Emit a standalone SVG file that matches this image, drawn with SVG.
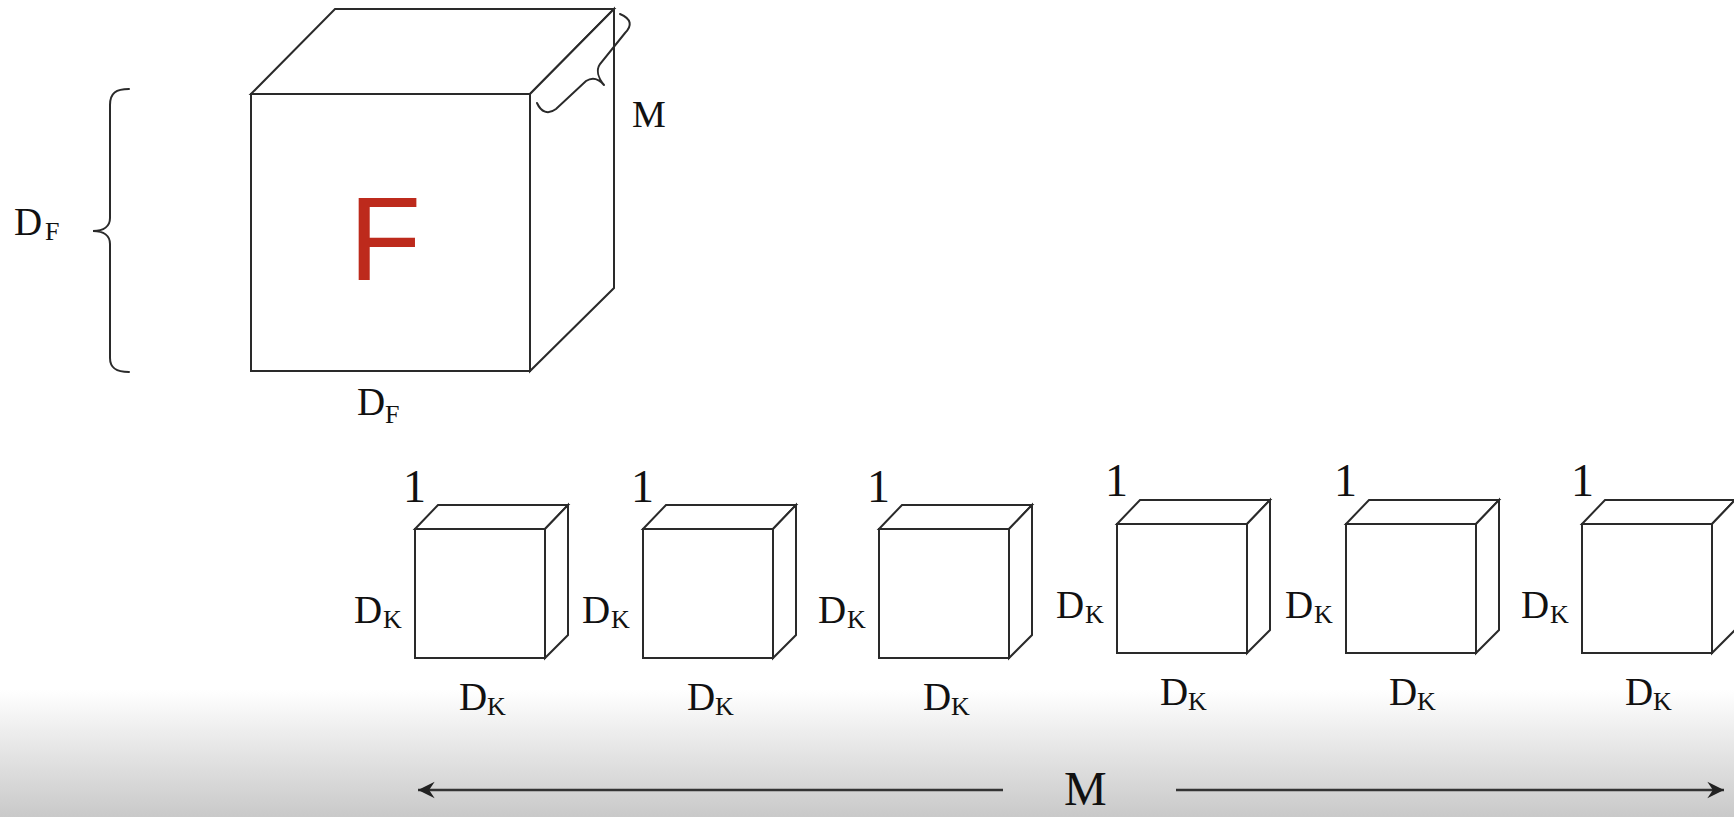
<svg xmlns="http://www.w3.org/2000/svg" xmlns:xlink="http://www.w3.org/1999/xlink" width="1734" height="817" viewBox="0 0 1734 817">
  <style>
    .edge { fill: #ffffff; stroke: #2a2a2a; stroke-width: 2; stroke-linejoin: miter; }
    .brace { fill: none; stroke: #2a2a2a; stroke-width: 2; stroke-linecap: round; }
    .lbl { font-family: "Liberation Serif", "Times New Roman", serif; fill: #111111; }
    .big { font-size: 39px; }
    .sub { font-size: 26px; }
    .one { font-size: 46px; }
    .conn { stroke: #333333; stroke-width: 2.5; fill: none; }
  </style>
  <defs>
    <linearGradient id="bg" x1="0" y1="690" x2="0" y2="817" gradientUnits="userSpaceOnUse">
      <stop offset="0" stop-color="#ffffff"/>
      <stop offset="1" stop-color="#c9c9c9"/>
    </linearGradient>
    <marker id="arrow" markerUnits="userSpaceOnUse" markerWidth="20" markerHeight="20" viewBox="-16 -9 18 18" refX="0" refY="0" orient="auto-start-reverse">
      <path d="M0,0 L-15,-7.5 L-10,0 L-15,7.5 Z" fill="#222222"/>
    </marker>
    <g id="smallcube">
      <rect class="edge" x="0" y="0" width="130" height="129"/>
      <polygon class="edge" points="0,0 23,-24 153,-24 130,0"/>
      <polygon class="edge" points="130,0 153,-24 153,106 130,129"/>
    </g>
  </defs>

  <rect x="0" y="0" width="1734" height="817" fill="#ffffff"/>
  <rect x="0" y="690" width="1734" height="127" fill="url(#bg)"/>

  <!-- Big feature map F -->
  <g id="bigcube">
    <polygon class="edge" points="251,94 335,9 614,9 530,94"/>
    <polygon class="edge" points="530,94 614,9 614,288 530,371"/>
    <rect class="edge" x="251" y="94" width="279" height="277"/>
    <text x="349" y="280" font-family="'Liberation Sans', Arial, sans-serif" font-size="118" fill="#bd2a1c">F</text>
  </g>

  <g id="bigcube-labels">
    <path class="brace" d="M 129 89 C 116 89, 110 93, 110 105 L 110 218 C 110 226, 104 231, 93 231 C 104 231, 110 236, 110 244 L 110 358 C 110 368, 116 372, 129 372"/>
    <text class="lbl big" x="14" y="235">D</text><text class="lbl sub" x="45" y="240">F</text>
    <text class="lbl big" x="357" y="415">D</text><text class="lbl sub" x="385" y="423">F</text>
    <path class="brace" d="M 620 14 C 632 19, 632 26, 625 33 L 600 64 C 596 70, 598 78, 604 85 M 604 85 C 598 78, 592 77, 586 81 L 556 109 C 548 115, 541 112, 537 103"/>
    <text class="lbl" x="632" y="127" font-size="38">M</text>
  </g>

  <!-- Kernels -->
  <g id="kernel1">
    <use xlink:href="#smallcube" href="#smallcube" transform="translate(415,529)"/>
    <text class="lbl one" x="403" y="502">1</text>
    <text class="lbl big" x="354" y="623">D</text><text class="lbl sub" x="383" y="628">K</text>
    <text class="lbl big" x="459" y="710">D</text><text class="lbl sub" x="487" y="715">K</text>
  </g>
  <g id="kernel2">
    <use xlink:href="#smallcube" href="#smallcube" transform="translate(643,529)"/>
    <text class="lbl one" x="631" y="502">1</text>
    <text class="lbl big" x="582" y="623">D</text><text class="lbl sub" x="611" y="628">K</text>
    <text class="lbl big" x="687" y="710">D</text><text class="lbl sub" x="715" y="715">K</text>
  </g>
  <g id="kernel3">
    <use xlink:href="#smallcube" href="#smallcube" transform="translate(879,529)"/>
    <text class="lbl one" x="867" y="502">1</text>
    <text class="lbl big" x="818" y="623">D</text><text class="lbl sub" x="847" y="628">K</text>
    <text class="lbl big" x="923" y="710">D</text><text class="lbl sub" x="951" y="715">K</text>
  </g>
  <g id="kernel4">
    <use xlink:href="#smallcube" href="#smallcube" transform="translate(1117,524)"/>
    <text class="lbl one" x="1105" y="496">1</text>
    <text class="lbl big" x="1056" y="618">D</text><text class="lbl sub" x="1085" y="623">K</text>
    <text class="lbl big" x="1160" y="705">D</text><text class="lbl sub" x="1188" y="710">K</text>
  </g>
  <g id="kernel5">
    <use xlink:href="#smallcube" href="#smallcube" transform="translate(1346,524)"/>
    <text class="lbl one" x="1334" y="496">1</text>
    <text class="lbl big" x="1285" y="618">D</text><text class="lbl sub" x="1314" y="623">K</text>
    <text class="lbl big" x="1389" y="705">D</text><text class="lbl sub" x="1417" y="710">K</text>
  </g>
  <g id="kernel6">
    <use xlink:href="#smallcube" href="#smallcube" transform="translate(1582,524)"/>
    <text class="lbl one" x="1571" y="496">1</text>
    <text class="lbl big" x="1521" y="618">D</text><text class="lbl sub" x="1550" y="623">K</text>
    <text class="lbl big" x="1625" y="705">D</text><text class="lbl sub" x="1653" y="710">K</text>
  </g>

  <!-- Connectors -->
  <g id="connectors">
    <line class="conn" x1="1003" y1="790" x2="418" y2="790" marker-end="url(#arrow)"/>
    <line class="conn" x1="1176" y1="790" x2="1724" y2="790" marker-end="url(#arrow)"/>
  </g>
  <g id="dimension-label">
    <text class="lbl" x="1064" y="805" font-size="48">M</text>
  </g>
</svg>
